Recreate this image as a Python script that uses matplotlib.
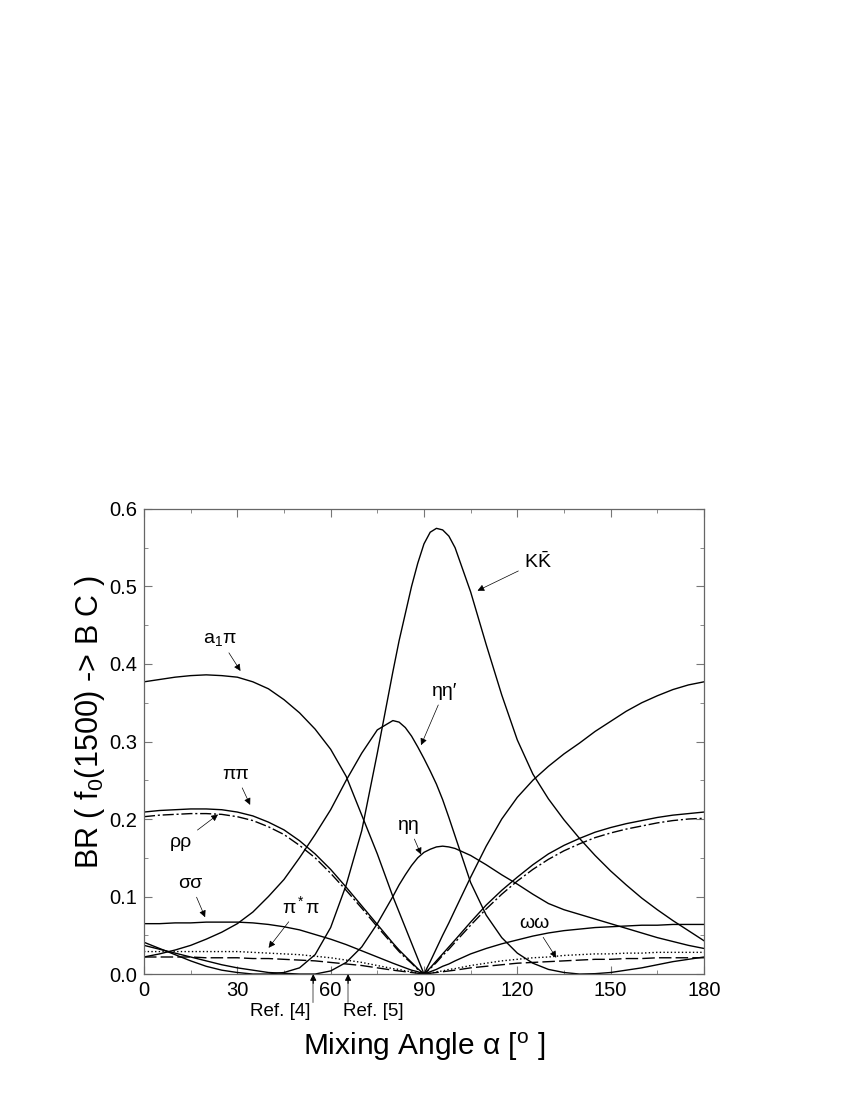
import matplotlib
matplotlib.use("Agg")
import matplotlib.pyplot as plt

plt.rcParams['font.family'] = ['Liberation Sans', 'DejaVu Sans']
plt.rcParams['mathtext.fontset'] = 'custom'
plt.rcParams['mathtext.rm'] = 'Liberation Sans'
plt.rcParams['mathtext.it'] = 'Liberation Sans'

# mixing angle grid (deg)
alpha = [0, 5, 10, 15, 20, 25, 30, 35, 40, 45, 50, 55, 60, 65, 70, 75, 80, 82, 84, 86, 88,
         90, 92, 94, 96, 98, 100, 105, 110, 115, 120, 125, 130, 135, 140, 145, 150, 155,
         160, 165, 170, 175, 180]

a1pi = [.377, .380, .383, .385, .386, .385, .383, .377, .368, .354, .337, .316, .290, .255,
        .205, .155, .100, .080, .060, .040, .020, 0, .016, .033, .050, .066, .083, .125, .165,
        .200, .228, .250, .268, .284, .298, .313, .326, .339, .350, .359, .367, .373, .377]
pipi = [.209, .211, .212, .213, .213, .212, .209, .204, .196, .186, .172, .155, .135, .112,
        .088, .064, .040, .031, .023, .015, .007, 0, .008, .017, .026, .035, .044, .067, .089,
        .108, .125, .141, .155, .166, .175, .183, .189, .194, .198, .202, .205, .207, .209]
rhorho = [.203, .205, .206, .207, .207, .206, .203, .198, .190, .180, .166, .150, .130, .108,
          .085, .061, .038, .029, .021, .014, .006, 0, .007, .015, .024, .032, .041, .063, .084,
          .103, .120, .135, .148, .159, .168, .176, .182, .187, .191, .195, .198, .200, .201]
sigsig = [.065, .065, .066, .066, .067, .067, .067, .066, .064, .061, .057, .051, .045, .038,
          .030, .022, .014, .011, .008, .005, .003, 0, .003, .006, .010, .013, .017, .026, .033,
          .039, .044, .049, .053, .056, .058, .060, .061, .062, .063, .063, .064, .064, .064]
pstarpi = [.029, .029, .029, .029, .029, .029, .029, .028, .027, .026, .025, .023, .021, .018,
           .015, .011, .007, .006, .004, .003, .001, 0, .001, .003, .004, .006, .007, .011, .014,
           .017, .019, .021, .022, .024, .025, .026, .026, .027, .027, .028, .028, .028, .028]
omom = [.022, .022, .022, .022, .021, .021, .021, .020, .020, .019, .018, .017, .015, .013,
        .011, .008, .005, .004, .003, .002, .001, 0, .001, .002, .003, .004, .005, .008, .010,
        .012, .014, .015, .016, .017, .018, .019, .019, .020, .020, .021, .021, .021, .021]
kkbar = [.041, .033, .025, .017, .010, .005, .002, .000, .000, .002, .008, .025, .060, .115,
         .185, .285, .390, .430, .465, .500, .530, .555, .570, .575, .573, .565, .550, .493, .425,
         .360, .302, .258, .226, .199, .175, .153, .133, .115, .098, .083, .069, .056, .043]
etaetap = [.022, .026, .031, .037, .045, .054, .065, .080, .100, .122, .150, .180, .212, .250,
           .285, .315, .327, .325, .318, .307, .293, .278, .262, .245, .225, .202, .178, .118, .076,
           .047, .027, .014, .006, .002, .000, .0005, .002, .005, .008, .012, .016, .019, .022]
etaeta = [.037, .032, .027, .022, .017, .012, .008, .005, .002, .001, .000, .000, .004, .015,
          .035, .065, .100, .115, .128, .140, .150, .157, .161, .164, .165, .164, .162, .153, .141,
          .128, .116, .103, .091, .083, .077, .071, .065, .059, .053, .047, .042, .037, .033]

ref_angles = [54.4, 65.6]
ref_names = ['Ref. [4]', 'Ref. [5]']

fig = plt.figure(figsize=(8.5, 11), dpi=100)
ax = fig.add_axes([0.1694, 0.1145, 0.6588, 0.4228])

lw = 1.0
ax.plot(alpha, a1pi, 'k-', lw=lw)
ax.plot(alpha, pipi, 'k-', lw=lw)
ax.plot(alpha, rhorho, 'k-.', lw=lw, dashes=(8, 2, 1.5, 2))
ax.plot(alpha, sigsig, 'k-', lw=lw)
ax.plot(alpha, pstarpi, 'k:', lw=lw)
ax.plot(alpha, omom, 'k--', lw=lw, dashes=(9, 3))
ax.plot(alpha, kkbar, 'k-', lw=lw)
ax.plot(alpha, etaetap, 'k-', lw=lw)
ax.plot(alpha, etaeta, 'k-', lw=lw)

ax.set_xlim(0, 180)
ax.set_ylim(0, 0.6)
ax.set_xticks([0, 30, 60, 90, 120, 150, 180])
ax.set_xticks(range(0, 181, 15), minor=True)
ax.set_yticks([0.0, 0.1, 0.2, 0.3, 0.4, 0.5, 0.6])
ax.set_yticks([0.05 + 0.1 * i for i in range(6)], minor=True)
ax.set_yticklabels(['0.0', '0.1', '0.2', '0.3', '0.4', '0.5', '0.6'])
ax.tick_params(which='both', direction='in', labelsize=14.5, color='#777777')
ax.tick_params(which='major', length=6, pad=5)
ax.tick_params(which='minor', length=3)
ax.tick_params(axis='y', right=True, which='both')
ax.tick_params(axis='x', top=True, which='both')
for s in ax.spines.values():
    s.set_color('#666666')
    s.set_linewidth(0.9)

ax.set_ylabel(r'BR ( f$_0$(1500) -> B C )', fontsize=22)
ax.yaxis.set_label_coords(-0.066, 0.542)
ax.set_xlabel(r'Mixing Angle $\alpha$ [$^{\mathregular{o}}$ ]', fontsize=21.5, labelpad=22)

ap = dict(arrowstyle='-|>', color='k', lw=0.5, mutation_scale=10)
fs = 14
ax.annotate(r'a$_1$π', xy=(31.5, 0.388), xytext=(24.5, 0.432), fontsize=fs,
            ha='center', va='center', arrowprops=ap)
ax.annotate('ππ', xy=(34.5, 0.215), xytext=(29.5, 0.258), fontsize=fs,
            ha='center', va='center', arrowprops=ap)
ax.annotate('ρρ', xy=(24.5, 0.208), xytext=(12, 0.17), fontsize=fs,
            ha='center', va='center', arrowprops=ap)
ax.annotate('σσ', xy=(20, 0.07), xytext=(15, 0.117), fontsize=fs,
            ha='center', va='center', arrowprops=ap)
ax.annotate(r'π$^*$π', xy=(39.5, 0.031), xytext=(50.5, 0.088), fontsize=fs,
            ha='center', va='center', arrowprops=ap)
ax.annotate('ηη', xy=(89.4, 0.151), xytext=(85, 0.192), fontsize=fs,
            ha='center', va='center', arrowprops=ap)
ax.annotate('ωω', xy=(133, 0.018), xytext=(125.5, 0.065), fontsize=fs,
            ha='center', va='center', arrowprops=ap)
ax.annotate(r'K$\mathregular{\bar{K}}$', xy=(106.4, 0.493), xytext=(126.5, 0.532), fontsize=fs,
            ha='center', va='center', arrowprops=ap)
ax.annotate('ηη′', xy=(88.7, 0.292), xytext=(96.5, 0.365), fontsize=fs,
            ha='center', va='center', arrowprops=ap)

# reference markers below the axis: grey shaft, black head
for a, name, side in zip(ref_angles, ref_names, ['right', 'left']):
    ax.plot([a, a], [-0.036, -0.008], color='#999999', lw=1.2, clip_on=False)
    ax.annotate('', xy=(a, 0), xytext=(a, -0.012), xycoords='data',
                arrowprops=dict(arrowstyle='-|>', color='k', lw=0.8,
                                mutation_scale=9, shrinkA=0, shrinkB=0),
                annotation_clip=False)
    xt = a - 0.8 if side == 'right' else a - 1.5
    ax.text(xt, -0.048, name, ha=side, va='center', fontsize=13.5, clip_on=False)

fig.savefig('out.png', dpi=100)
